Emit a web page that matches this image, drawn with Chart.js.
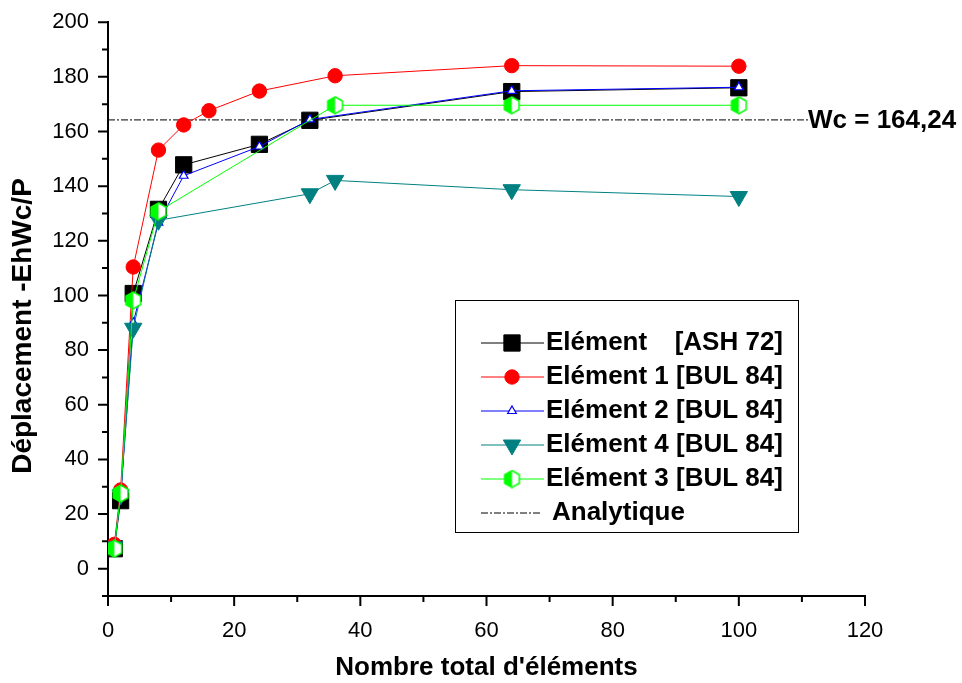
<!DOCTYPE html>
<html>
<head>
<meta charset="utf-8">
<script src="https://cdn.jsdelivr.net/npm/chart.js@4.4.0/dist/chart.umd.min.js"></script>
<style>
  html, body { margin: 0; background: #fff; }
</style>
</head>
<body>
<canvas id="c" width="962" height="683"></canvas>
<script>
const FONT = "'Liberation Sans', Arial, sans-serif";

// values
const ashX = [1, 2, 4, 8, 12, 24, 32, 64, 100];
const ashY = [7.3, 24.9, 100.7, 131.5, 147.8, 155.3, 164.1, 174.6, 176.0];
const bul1X = [1, 2, 4, 8, 12, 16, 24, 36, 64, 100];
const bul1Y = [8.9, 28.8, 110.4, 153.2, 162.4, 167.6, 174.8, 180.4, 184.1, 183.9];
const bul2X = [1, 2, 4, 8, 12, 24, 32, 64, 100];
const bul2Y = [8.0, 26.5, 90.0, 126.6, 143.8, 154.5, 164.4, 174.9, 176.2];
const bul4X = [1, 2, 4, 8, 32, 36, 64, 100];
const bul4Y = [8.0, 27.0, 88.0, 127.5, 137.2, 142.1, 138.7, 136.2];
const bul3X = [1, 2, 4, 8, 36, 64, 100];
const bul3Y = [7.3, 27.5, 98.2, 130.8, 169.6, 169.6, 169.6];
const analyticX = [0, 111];
const analyticY = 164.24;

const xMajor = [0, 20, 40, 60, 80, 100, 120];
const xMinor = [10, 30, 50, 70, 90, 110];
const yMajor = [0, 20, 40, 60, 80, 100, 120, 140, 160, 180, 200];
const yMinor = [-10, 10, 30, 50, 70, 90, 110, 130, 150, 170, 190];

const xTitle = "Nombre total d'éléments";
const yTitle = "Déplacement -EhWc/P";
const wcLabel = "Wc = 164,24";
const legendNames = ["Elément 1 [BUL 84]", "Elément 2 [BUL 84]", "Elément 4 [BUL 84]", "Elément 3 [BUL 84]"];

const pts = (xs, ys) => xs.map((x, i) => ({ x, y: ys[i] }));

function hexImage(size) {
  const c = document.createElement("canvas");
  c.width = c.height = size;
  const g = c.getContext("2d");
  const r = size / 2 - 1, cx = size / 2, cy = size / 2;
  g.beginPath();
  for (let k = 0; k < 6; k++) {
    const a = -Math.PI / 2 + k * Math.PI / 3;
    const px = cx + r * Math.cos(a), py = cy + r * Math.sin(a);
    k ? g.lineTo(px, py) : g.moveTo(px, py);
  }
  g.closePath();
  g.fillStyle = "#fff";
  g.fill();
  g.save();
  g.clip();
  g.fillStyle = "#00ff00";
  g.fillRect(0, 0, cx, size);
  g.restore();
  g.strokeStyle = "#00ff00";
  g.lineWidth = 1.5;
  g.stroke();
  return c;
}
const hex = hexImage(19);

const datasets = [
  { label: "ASH", data: pts(ashX, ashY), borderColor: "#000", backgroundColor: "#000",
    pointStyle: "rect", pointRadius: 11.5, pointBorderWidth: 1, order: 6 },
  { label: "BUL1", data: pts(bul1X, bul1Y), borderColor: "#ff0000", backgroundColor: "#ff0000",
    pointStyle: "circle", pointRadius: 7.2, pointBorderWidth: 1, order: 5 },
  { label: "BUL2", data: pts(bul2X, bul2Y), borderColor: "#0000ff", backgroundColor: "#fff",
    pointStyle: "triangle", pointRadius: 5, pointBorderWidth: 1.2, order: 4 },
  { label: "BUL4", data: pts(bul4X, bul4Y), borderColor: "#008080", backgroundColor: "#008080",
    pointStyle: "triangle", pointRotation: 180, pointRadius: 10, pointBorderWidth: 1, order: 3 },
  { label: "BUL3", data: pts(bul3X, bul3Y), borderColor: "#00ff00", backgroundColor: "#00ff00",
    pointStyle: hex, pointRadius: 9, pointBorderWidth: 0, order: 2 },
  { label: "Analytique", data: analyticX.map(x => ({ x, y: analyticY })), borderColor: "#000",
    borderDash: [7, 2, 2, 2], pointRadius: 0, order: 7 },
];
datasets.forEach(d => { d.showLine = true; d.borderWidth = 1; d.fill = false; });

function marker(ctx, ds, x, y) {
  ctx.save();
  ctx.fillStyle = ds.backgroundColor;
  ctx.strokeStyle = ds.borderColor;
  ctx.lineWidth = ds.pointBorderWidth;
  Chart.helpers.drawPoint(ctx, {
    pointStyle: ds.pointStyle, radius: ds.pointRadius,
    rotation: ds.pointRotation || 0, borderWidth: ds.pointBorderWidth
  }, x, y);
  ctx.restore();
}

const decor = {
  id: "decor",
  afterDraw(chart) {
    const { ctx, chartArea: a, scales: { x, y } } = chart;
    ctx.save();
    ctx.strokeStyle = "#000";
    ctx.lineWidth = 2;
    ctx.beginPath();
    x.ticks.forEach(t => {
      const px = x.getPixelForValue(t.value);
      const len = xMajor.includes(t.value) ? 10 : 6;
      ctx.moveTo(px, a.bottom); ctx.lineTo(px, a.bottom + len);
    });
    y.ticks.forEach(t => {
      const py = y.getPixelForValue(t.value);
      const len = yMajor.includes(t.value) ? 10 : 6;
      ctx.moveTo(a.left, py); ctx.lineTo(a.left - len, py);
    });
    ctx.stroke();

    // axis titles
    ctx.fillStyle = "#000";
    ctx.textAlign = "center";
    ctx.textBaseline = "middle";
    ctx.font = "bold 26px " + FONT;
    ctx.fillText(xTitle, (a.left + a.right) / 2, 668);
    ctx.save();
    ctx.translate(23, 326);
    ctx.rotate(-Math.PI / 2);
    ctx.font = "bold 28px " + FONT;
    ctx.fillText(yTitle, 0, 0);
    ctx.restore();

    // analytic value label
    ctx.textAlign = "left";
    ctx.font = "bold 26px " + FONT;
    ctx.fillText(wcLabel, 808, y.getPixelForValue(analyticY) + 1);

    // legend
    ctx.lineWidth = 1;
    ctx.strokeRect(455.5, 300.5, 343, 232);
    const rows = [0, 1, 2, 3, 4];
    rows.forEach(i => {
      const ds = datasets[i];
      const ry = 343 + 34 * i;
      ctx.strokeStyle = ds.borderColor;
      ctx.beginPath(); ctx.moveTo(481, ry); ctx.lineTo(544, ry); ctx.stroke();
      marker(ctx, ds, 512, ry);
      ctx.fillStyle = "#000";
      ctx.textAlign = "left";
      if (i === 0) {
        ctx.fillText("Elément", 546, ry);
        ctx.textAlign = "right";
        ctx.fillText("[ASH 72]", 783, ry);
      } else {
        ctx.fillText(legendNames[i - 1], 546, ry);
      }
    });
    const ay = 513;
    ctx.strokeStyle = "#000";
    ctx.setLineDash([7, 2, 2, 2]);
    ctx.beginPath(); ctx.moveTo(481, ay); ctx.lineTo(541, ay); ctx.stroke();
    ctx.setLineDash([]);
    ctx.textAlign = "left";
    ctx.fillText("Analytique", 552, ay);
    ctx.restore();
  }
};

new Chart(document.getElementById("c"), {
  type: "scatter",
  data: { datasets },
  plugins: [decor],
  options: {
    responsive: false,
    animation: false,
    devicePixelRatio: 1,
    layout: { padding: { top: 22, right: 97, left: 0, bottom: 0 } },
    plugins: { legend: { display: false }, tooltip: { enabled: false } },
    scales: {
      x: {
        type: "linear", min: 0, max: 120,
        afterBuildTicks: s => { s.ticks = xMajor.concat(xMinor).sort((p, q) => p - q).map(v => ({ value: v })); },
        afterFit: s => { s.height = 87; },
        border: { display: true, color: "#000", width: 2 },
        grid: { display: false, drawTicks: true, tickLength: 10 },
        ticks: { autoSkip: false, maxRotation: 0, padding: 12, color: "#000",
          font: { family: FONT, size: 22 },
          callback: v => xMajor.includes(v) ? String(v) : "" }
      },
      y: {
        type: "linear", min: -10, max: 200,
        afterBuildTicks: s => { s.ticks = yMajor.concat(yMinor).sort((p, q) => p - q).map(v => ({ value: v })); },
        afterFit: s => { s.width = 108; },
        border: { display: true, color: "#000", width: 2 },
        grid: { display: false, drawTicks: true, tickLength: 10 },
        ticks: { autoSkip: false, padding: 9, color: "#000",
          font: { family: FONT, size: 22 },
          callback: v => yMajor.includes(v) ? String(v) : "" }
      }
    }
  }
});
</script>
</body>
</html>
